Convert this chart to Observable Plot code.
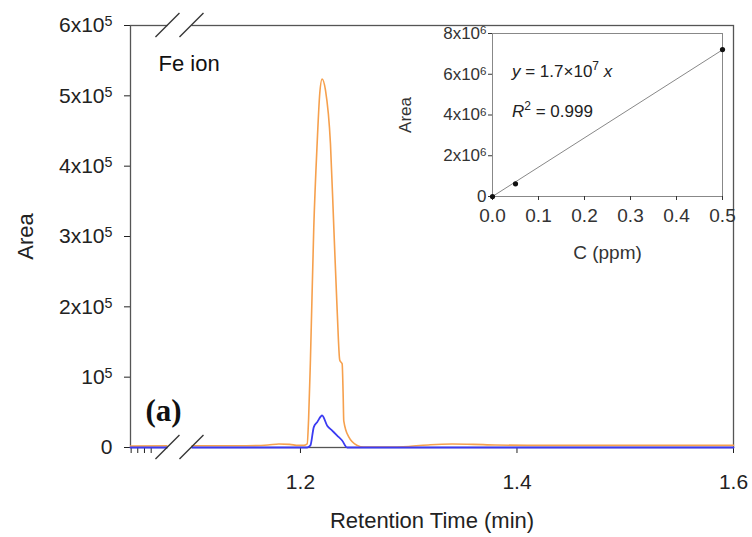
<!DOCTYPE html>
<html>
<head>
<meta charset="utf-8">
<script src="https://cdn.jsdelivr.net/npm/d3@7"></script>
<script src="https://cdn.jsdelivr.net/npm/@observablehq/plot@0.6"></script>
<style>
  html, body { margin: 0; padding: 0; background: #fff; }
  #wrap { position: relative; width: 752px; height: 537px; overflow: hidden; font-family: "Liberation Sans", Arial, sans-serif; }
  #inset { position: absolute; left: 380px; top: 0px; }
  .ann { position: absolute; font-family: "Liberation Sans", Arial, sans-serif; font-size: 17px; color: #222; white-space: nowrap; line-height: 1; }
  .ann sup { font-size: 12px; vertical-align: 0; position: relative; top: -7px; }
</style>
</head>
<body>
<div id="wrap"></div>
<script>
// ---------- Main chromatogram data ----------
const orangeTime = [1.043, 1.08, 1.12, 1.15, 1.17, 1.18, 1.19, 1.198, 1.203, 1.2062, 1.2075, 1.2092, 1.2123, 1.2154, 1.2178, 1.2200, 1.2231, 1.2277, 1.2308, 1.2339, 1.2363, 1.2385, 1.2394, 1.2400, 1.2446, 1.2524, 1.2585, 1.28, 1.30, 1.32, 1.34, 1.36, 1.38, 1.42, 1.5, 1.6];
const orangeArea = [2000, 2500, 2500, 2500, 3500, 5000, 4500, 3000, 3000, 5000, 40000, 124000, 313000, 432000, 503000, 524000, 508000, 432000, 313000, 195000, 124000, 119000, 77000, 38000, 15000, 3000, 500, 500, 1500, 4000, 5000, 4500, 3500, 3000, 3000, 3000];
const blueTime = [1.043, 1.15, 1.2062, 1.2092, 1.2123, 1.2154, 1.2200, 1.2247, 1.2293, 1.2339, 1.2385, 1.2431, 1.30, 1.6];
const blueArea = [0, 0, 0, 3000, 29000, 36000, 45500, 31000, 24000, 17000, 10000, 0, 0, 0];
const xTicksMajor = [1.2, 1.4, 1.6];
const xTicksMinor = [1.0436, 1.0497, 1.0559, 1.0621];
const yTicks = [0, 1e5, 2e5, 3e5, 4e5, 5e5, 6e5];
const axisBreaks = [1.0776, 1.0998];

// ---------- Inset calibration data ----------
const concPpm = [0, 0.05, 0.5];
const calArea = [0, 0.62e6, 7.21e6];
const insetXTicks = [0, 0.1, 0.2, 0.3, 0.4, 0.5];
const insetYTicks = [0, 2e6, 4e6, 6e6, 8e6];

const orange = orangeTime.map((t, i) => ({t, a: orangeArea[i]}));
const blue = blueTime.map((t, i) => ({t, a: blueArea[i]}));
const cal = concPpm.map((c, i) => ({c, a: calArea[i]}));

// turn "6x10^5" into text with a raised superscript tspan
function superscriptify(svgEl) {
  d3.select(svgEl).selectAll("text").each(function() {
    const el = d3.select(this);
    const tspans = el.selectAll("tspan");
    const target = tspans.size() ? d3.select(tspans.nodes()[0]) : el;
    const s = target.text();
    const m = /^(.*)\^(\d+)$/.exec(s);
    if (!m) return;
    target.text(m[1]);
    target.append("tspan").attr("dy", "-0.42em").attr("font-size", "0.68em").text(m[2]);
  });
}

const main = Plot.plot({
  width: 752, height: 537,
  marginLeft: 130, marginRight: 19, marginTop: 25, marginBottom: 90,
  style: {fontFamily: "Liberation Sans, Arial, sans-serif", fontSize: "21px", color: "#222", background: "transparent", overflow: "visible"},
  x: {domain: [1.043, 1.6], ticks: [...xTicksMinor, ...xTicksMajor], tickFormat: d => xTicksMajor.includes(d) ? d3.format(".1f")(d) : "", tickSize: 6, tickPadding: 21, label: null},
  y: {domain: [0, 6e5], ticks: yTicks, tickFormat: d => d === 0 ? "0" : d === 1e5 ? "10^5" : `${d / 1e5}x10^5`, tickSize: 6, tickPadding: 12, label: null},
  marks: [
    Plot.frame({stroke: "#555", strokeWidth: 1.3}),
    Plot.line(orange, {x: "t", y: "a", stroke: "#f6a04d", strokeWidth: 1.6, curve: "monotone-x"}),
    Plot.line(blue, {x: "t", y: "a", stroke: "#3b3bf2", strokeWidth: 1.8, curve: "monotone-x"}),
    Plot.text(["Area"], {frameAnchor: "left", dx: -105, rotate: -90, fontSize: 22, textAnchor: "middle", lineAnchor: "middle", fill: "#222"}),
    Plot.text(["Retention Time (min)"], {frameAnchor: "bottom", dy: 73, fontSize: 22, textAnchor: "middle", lineAnchor: "middle", fill: "#222"}),
    Plot.text(["Fe ion"], {frameAnchor: "top-left", dx: 28, dy: 38, fontSize: 22, textAnchor: "start", lineAnchor: "middle", fill: "#111"}),
    Plot.text(["(a)"], {frameAnchor: "bottom-left", dx: 15, dy: -36, fontSize: 31, fontWeight: "bold", fontFamily: "Liberation Serif, Times New Roman, serif", textAnchor: "start", lineAnchor: "middle", fill: "#111"})
  ]
});
superscriptify(main);

// axis break marks
{
  const sx = main.scale("x"), sy = main.scale("y");
  const svg = d3.select(main);
  const yTop = sy.apply(6e5), yBot = sy.apply(0);
  const bx = axisBreaks.map(b => sx.apply(b));
  const g = svg.append("g");
  for (const yy of [yTop, yBot]) {
    g.append("rect").attr("x", bx[0]).attr("y", yy - 4).attr("width", bx[1] - bx[0]).attr("height", 8).attr("fill", "#fff");
    for (const cx of bx) {
      g.append("line").attr("x1", cx - 12).attr("y1", yy + 12).attr("x2", cx + 12).attr("y2", yy - 12)
        .attr("stroke", "#333").attr("stroke-width", 1.3);
    }
  }
}

document.getElementById("wrap").appendChild(main);

// ---------- Inset ----------
const slope = d3.sum(cal, d => d.c * d.a) / d3.sum(cal, d => d.c * d.c);
const fit = d3.extent(concPpm).map(c => ({c, a: slope * c}));

const inset = Plot.plot({
  width: 372, height: 280,
  marginLeft: 112, marginRight: 30, marginTop: 33, marginBottom: 84,
  style: {fontFamily: "Liberation Sans, Arial, sans-serif", fontSize: "17px", color: "#333", background: "transparent", overflow: "visible"},
  x: {domain: [0, 0.5], label: null},
  y: {domain: [0, 8e6], label: null},
  marks: [
    Plot.frame({stroke: "#888"}),
    Plot.axisX({ticks: insetXTicks, tickFormat: d3.format(".1f"), tickSize: 4, tickPadding: 8, label: null}),
    Plot.axisY({ticks: insetYTicks, tickFormat: d => d === 0 ? "0" : `${d / 1e6}x10^6`, tickSize: 4, tickPadding: 2, label: null}),
    Plot.line(fit, {x: "c", y: "a", stroke: "#888", strokeWidth: 1}),
    Plot.dot(cal, {x: "c", y: "a", r: 2.6, fill: "#111", stroke: "none"}),
    Plot.text(["Area"], {frameAnchor: "left", dx: -87, rotate: -90, fontSize: 17, textAnchor: "middle", lineAnchor: "middle", fill: "#333"}),
    Plot.text(["C (ppm)"], {frameAnchor: "bottom", dy: 56, fontSize: 19, textAnchor: "middle", lineAnchor: "middle", fill: "#333"})
  ]
});
superscriptify(inset);
d3.select(inset).selectAll('g[aria-label="x-axis tick label"]').attr("font-size", 19).style("font-size", "19px");
inset.id = "inset";
document.getElementById("wrap").appendChild(inset);

// equation annotations
const eq1 = document.createElement("div");
eq1.className = "ann";
eq1.style.left = "512px"; eq1.style.top = "63px";
eq1.innerHTML = "<i>y</i> = 1.7×10<sup>7</sup> <i>x</i>";
const eq2 = document.createElement("div");
eq2.className = "ann";
eq2.style.left = "512px"; eq2.style.top = "103px";
eq2.innerHTML = "<i>R</i><sup>2</sup> = 0.999";
document.getElementById("wrap").appendChild(eq1);
document.getElementById("wrap").appendChild(eq2);
</script>
</body>
</html>
